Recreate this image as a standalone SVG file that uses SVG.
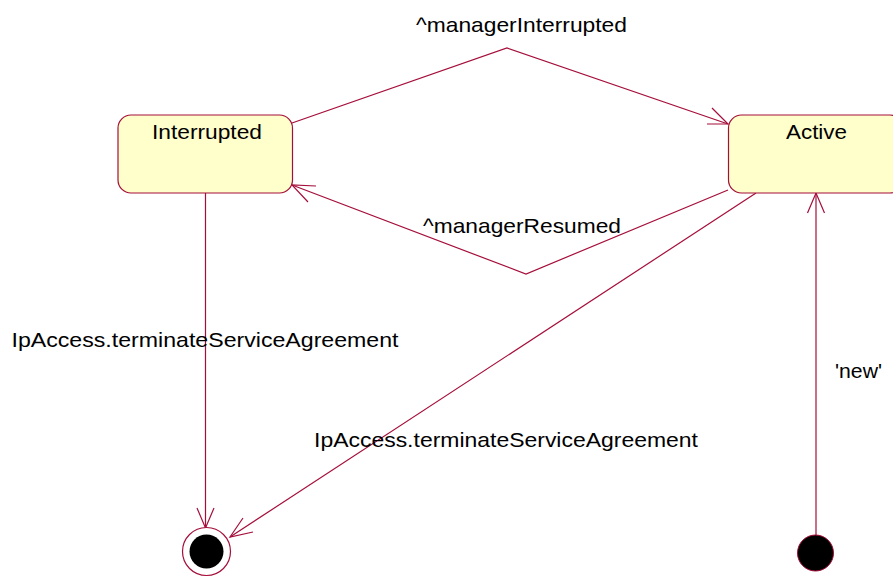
<svg xmlns="http://www.w3.org/2000/svg" width="893" height="578" viewBox="0 0 893 578">
<style>
.state{fill:#ffffcc;stroke:#a50e3a;stroke-width:1.2}
.edge{fill:none;stroke:#a50e3a;stroke-width:1.2}
.lbl{font-family:"Liberation Sans",Arial,sans-serif;font-size:21px;fill:#000}
.init{fill:#000;stroke:#a50e3a;stroke-width:1}
</style>
<rect width="893" height="578" fill="#fff"/>
<g id="connectors">
  <polyline class="edge" points="292,123 507,48 728,124"/>
  <polyline class="edge" points="712,108 728,124 707,124"/>
  <polyline class="edge" points="728,190 526,274 292,185"/>
  <polyline class="edge" points="316,186 292,185 308,202"/>
  <line class="edge" x1="205.5" y1="193" x2="205.5" y2="528"/>
  <polyline class="edge" points="197,508 205.5,528 214,508"/>
  <line class="edge" x1="756" y1="193" x2="230" y2="537"/>
  <polyline class="edge" points="243,518 230,537 253,532"/>
  <line class="edge" x1="816" y1="535" x2="816" y2="193"/>
  <polyline class="edge" points="807.5,213 816,193 824.5,213"/>
  <text class="lbl" x="416" y="31.5" textLength="211" lengthAdjust="spacingAndGlyphs">^managerInterrupted</text>
  <text class="lbl" x="423" y="233" textLength="198" lengthAdjust="spacingAndGlyphs">^managerResumed</text>
  <text class="lbl" x="11.5" y="347" textLength="387" lengthAdjust="spacingAndGlyphs">IpAccess.terminateServiceAgreement</text>
  <text class="lbl" x="314" y="447" textLength="384" lengthAdjust="spacingAndGlyphs">IpAccess.terminateServiceAgreement</text>
  <text class="lbl" x="835" y="378" textLength="47" lengthAdjust="spacingAndGlyphs">'new'</text>
</g>
<g id="interrupted">
  <rect class="state" x="118" y="115" width="174.5" height="78" rx="13" ry="13"/>
  <text class="lbl" x="152" y="139" textLength="110" lengthAdjust="spacingAndGlyphs">Interrupted</text>
</g>
<g id="active">
  <rect class="state" x="728.5" y="115" width="174.5" height="78" rx="13" ry="13"/>
  <text class="lbl" x="786" y="139" textLength="61" lengthAdjust="spacingAndGlyphs">Active</text>
</g>
<g id="final">
  <circle cx="206.5" cy="551.5" r="24" fill="#fff" stroke="#a50e3a" stroke-width="1.2"/>
  <circle cx="206.5" cy="551.5" r="17" fill="#000"/>
</g>
<g id="initial">
  <circle class="init" cx="815.5" cy="553" r="18"/>
</g>
</svg>
